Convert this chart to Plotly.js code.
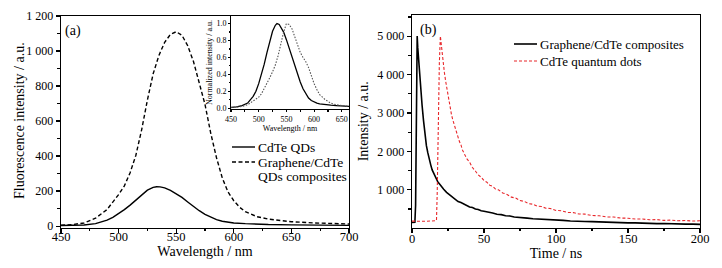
<!DOCTYPE html>
<html>
<head>
<meta charset="utf-8">
<script src="https://cdn.plot.ly/plotly-3.0.1.min.js"></script>
<style>html,body{margin:0;padding:0;background:#fff;}#chart{width:722px;height:268px;}</style>
</head>
<body>
<div id="chart"></div>
<script>
// ---- Panel (a): fluorescence spectra ----
const wlQD = [450,460,470,480,485,490,495,500,505,510,515,520,525,530,533,536,540,545,550,555,560,565,570,575,580,585,590,595,600,610,620,630,650,675,700];
const fluoQD = [3,4,6,14,22,34,50,70,94,120,150,180,205,221,225,224,218,204,186,164,138,112,88,67,50,37,28,22,18,14,11,9,7,5,4];

const wlComp = [450,460,470,480,490,500,505,510,515,520,525,530,535,540,545,550,555,560,565,570,575,580,585,590,595,600,605,610,620,630,640,650,670,700];
const fluoComp = [5,9,18,45,95,180,230,305,405,550,720,870,975,1050,1095,1110,1090,1030,940,825,695,530,390,275,195,145,108,82,54,40,31,25,18,12];

// inset: normalized spectra
const wlNorm = [450,460,470,480,490,495,500,505,510,515,520,525,530,533,537,540,545,550,555,560,565,570,575,580,585,590,595,600,605,610,620,630,640,650,663];
const normQD = [0.01,0.015,0.03,0.06,0.14,0.2,0.29,0.4,0.52,0.66,0.8,0.91,0.98,1.0,0.99,0.96,0.9,0.81,0.71,0.6,0.5,0.4,0.31,0.23,0.17,0.12,0.09,0.07,0.06,0.05,0.04,0.035,0.03,0.025,0.02];
const wlNorm2 = [450,460,470,480,490,500,505,510,515,520,525,530,535,540,545,550,555,560,565,570,575,580,585,590,595,600,605,610,620,630,640,650,663];
const normComp = [0.005,0.01,0.02,0.04,0.08,0.13,0.17,0.23,0.29,0.36,0.43,0.51,0.62,0.76,0.9,1.0,0.99,0.94,0.84,0.74,0.66,0.6,0.55,0.48,0.38,0.29,0.22,0.16,0.1,0.06,0.04,0.03,0.02];

// ---- Panel (b): time-resolved decay ----
const tComp = [0,1,2,2.5,3,3.6,4,5,6,7,8,9,10,11,12,13,14,15,16,17,18,19,20,22,24,26,28,30,32,34,36,38,40,42,44,46,48,50,53,56,59,62,65,68,71,74,77,80,84,88,92,96,100,105,110,115,120,125,130,135,140,145,150,155,160,165,170,175,180,185,190,195,200];
const iComp = [150,158,155,600,2800,5000,4700,4100,3650,3200,2800,2450,2150,1960,1780,1650,1520,1440,1350,1290,1200,1160,1100,1015,935,875,805,755,695,670,625,595,555,540,500,490,455,445,410,395,365,355,325,320,295,290,272,265,248,242,225,232,208,205,188,190,176,172,163,160,150,150,140,141,131,133,122,124,115,116,108,109,102];

const tDots = [0,2,4,6,8,10,12,14,16,17,17.5,18,18.5,19,19.7,20.5,21.5,22.5,23.5,24.5,25.5,26.5,27.5,28.5,30,31.5,33,34,35,36,38,40,42,44,46,48,50,52,54,56,58,60,63,66,69,72,75,78,81,84,87,90,93,96,100,104,108,112,116,120,125,130,135,140,145,150,155,160,165,170,175,180,185,190,195,200];
const iDots = [185,180,183,176,184,180,186,182,190,200,900,2200,3400,4300,5000,4700,4350,4050,3800,3560,3320,3130,2940,2800,2580,2430,2250,2170,2040,1970,1810,1720,1580,1490,1390,1330,1240,1200,1120,1090,1020,1000,920,880,810,785,720,700,640,625,575,565,520,515,465,455,412,408,372,368,332,326,295,292,264,262,240,240,222,226,205,212,196,203,188,196];

// legend labels and axis titles
const legA = ['CdTe QDs', 'Graphene/CdTe', 'QDs composites'];
const legB = ['Graphene/CdTe composites', 'CdTe quantum dots'];
const yTitleA = 'Fluorescence intensity / a.u.';

const F = 'Liberation Serif';
const ax = (o) => Object.assign({
  showline: true, linecolor: '#000', linewidth: 1.3, mirror: true,
  ticks: 'outside', ticklen: 4, tickwidth: 1.2, tickcolor: '#000',
  showgrid: false, zeroline: false, tickfont: {family: F, size: 12, color: '#000'}
}, o);

const dashBlack = '4px,2.5px';
const dashRed = '3px,2px';

const traces = [
  {x: wlQD, y: fluoQD, mode: 'lines', name: legA[0], line: {color: '#000', width: 1.4}, xaxis: 'x', yaxis: 'y'},
  {x: wlComp, y: fluoComp, mode: 'lines', name: legA[1] + ' ' + legA[2], line: {color: '#000', width: 1.4, dash: dashBlack}, xaxis: 'x', yaxis: 'y'},
  {x: wlNorm, y: normQD, mode: 'lines', line: {color: '#000', width: 1.3}, xaxis: 'x3', yaxis: 'y3'},
  {x: wlNorm2, y: normComp, mode: 'lines', line: {color: '#555', width: 1.1, dash: '1.5px,1.5px'}, xaxis: 'x3', yaxis: 'y3'},
  {x: tComp, y: iComp, mode: 'lines', name: legB[0], line: {color: '#000', width: 1.6}, xaxis: 'x2', yaxis: 'y2'},
  {x: tDots, y: iDots, mode: 'lines', name: legB[1], line: {color: '#e8262a', width: 1.1, dash: dashRed}, xaxis: 'x2', yaxis: 'y2'}
];

const px = (x) => x / 722, py = (y) => 1 - y / 268;
const legLine = (x0, x1, y, color, dash, w) => ({type: 'line', xref: 'paper', yref: 'paper',
  x0: px(x0), x1: px(x1), y0: py(y), y1: py(y), line: {color: color, width: w, dash: dash}});
const legText = (text, x, y, size) => ({text: text, xref: 'paper', yref: 'paper', x: px(x), y: py(y),
  xanchor: 'left', yanchor: 'middle', showarrow: false, borderpad: 0, font: {family: F, size: size, color: '#000'}});

const layout = {
  width: 722, height: 268,
  margin: {l: 0, r: 0, t: 0, b: 0},
  paper_bgcolor: '#fff', plot_bgcolor: '#fff',
  separators: '. ',
  showlegend: false,
  font: {family: F, size: 13, color: '#000'},
  xaxis: ax({domain: [61/722, 349/722], range: [450, 700], dtick: 50, tick0: 450, ticklabelstandoff: -7,
    tickfont: {family: F, size: 12.5, color: '#000'},
    minor: {ticks: 'outside', dtick: 25, ticklen: 2.5, tickcolor: '#000'},
    title: {text: 'Wavelength / nm', font: {family: F, size: 14}, standoff: 0}, anchor: 'y'}),
  yaxis: ax({domain: [40.5/268, 252/268], range: [-8, 1200], dtick: 200, tick0: 0, separatethousands: true,
    minor: {ticks: 'outside', dtick: 100, ticklen: 2.5, tickcolor: '#000'}, anchor: 'x'}),
  xaxis2: ax({domain: [412/722, 700/722], range: [0, 200], dtick: 50, tick0: 0, ticklabelstandoff: -5,
    tickfont: {family: F, size: 12.5, color: '#000'},
    minor: {ticks: 'outside', dtick: 25, ticklen: 2.5, tickcolor: '#000'},
    title: {text: 'Time / ns', font: {family: F, size: 14}, standoff: 0}, anchor: 'y2'}),
  yaxis2: ax({domain: [40.5/268, 253/268], range: [20, 5550], dtick: 1000, tick0: 1000, separatethousands: true,
    minor: {ticks: 'outside', dtick: 500, ticklen: 2.5, tickcolor: '#000'},
    title: {text: 'Intensity / a.u.', font: {family: F, size: 14}, standoff: 5}, anchor: 'x2'}),
  xaxis3: ax({domain: [231/722, 349/722], range: [450, 663], dtick: 50, tick0: 450, ticklen: 2, linewidth: 1,
    tickfont: {family: F, size: 8}, minor: {ticks: 'outside', dtick: 25, ticklen: 1.5, tickcolor: '#000'},
    title: {text: 'Wavelength / nm', font: {family: F, size: 8}, standoff: 0}, anchor: 'y3'}),
  yaxis3: ax({domain: [159/268, 252/268], range: [-0.01, 1.09], dtick: 0.2, tick0: 0, tickformat: '.1f', ticklen: 2, linewidth: 1,
    tickfont: {family: F, size: 8}, minor: {ticks: 'outside', dtick: 0.1, ticklen: 1.5, tickcolor: '#000'},
    title: {text: 'Normalized intensity / a.u.', font: {family: F, size: 8}, standoff: 2}, anchor: 'x3'}),
  shapes: [
    legLine(232, 255, 147, '#000', 'solid', 1.4),
    legLine(232, 255, 162, '#000', dashBlack, 1.4),
    legLine(514, 537, 44, '#000', 'solid', 1.6),
    legLine(514, 537, 61, '#e8262a', dashRed, 1.2)
  ],
  annotations: [
    {text: yTitleA, xref: 'paper', yref: 'paper', x: px(19), y: py(121), xanchor: 'center', yanchor: 'middle', textangle: -90, showarrow: false, font: {family: F, size: 14}},
    {text: '(a)', xref: 'paper', yref: 'paper', x: px(73), y: py(31), xanchor: 'center', yanchor: 'middle', showarrow: false, font: {family: F, size: 14}},
    {text: '(b)', xref: 'paper', yref: 'paper', x: px(428), y: py(30), xanchor: 'center', yanchor: 'middle', showarrow: false, font: {family: F, size: 14}},
    legText(legA[0], 257, 147, 13.5),
    legText(legA[1], 257, 162, 13.5),
    legText(legA[2], 257, 176.5, 13.5),
    legText(legB[0], 539, 44, 13),
    legText(legB[1], 539, 61, 13)
  ]
};

Plotly.newPlot('chart', traces, layout, {staticPlot: true, displayModeBar: false});
</script>
</body>
</html>
